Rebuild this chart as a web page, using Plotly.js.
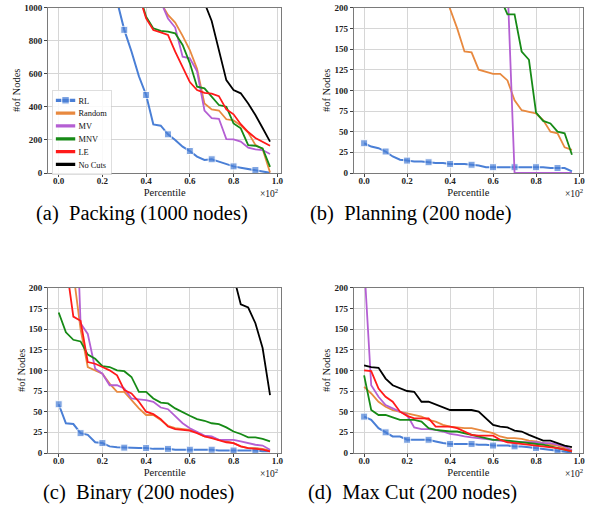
<!DOCTYPE html>
<html>
<head>
<meta charset="utf-8">
<script src="https://cdn.plot.ly/plotly-3.0.1.min.js"></script>
<style>html,body{margin:0;padding:0;background:#fff;} #chart{width:591px;height:514px;}</style>
</head>
<body>
<div id="chart"></div>
<script>
// Percentile positions (x, shown ×10^2)
const pct = [0.000,0.033,0.067,0.100,0.133,0.167,0.200,0.233,0.267,0.300,
             0.333,0.367,0.400,0.433,0.467,0.500,0.533,0.567,0.600,0.633,
             0.667,0.700,0.733,0.767,0.800,0.833,0.867,0.900,0.933,0.967];

const seriesNames = ["RL","Random","MV","MNV","LE","No Cuts"];

// (a) Packing (1000 nodes)
const packRL     = [4000,3400,2900,2500,2100,1800,1500,1250,1040,866,735,585,472,294,286,234,200,159,133,99,79,83,69,52,40,32,24,18,8,1];
const packRandom = [3000,2700,2500,2300,2100,1950,1800,1650,1500,1400,1300,1220,1150,1090,1030,956,910,830,744,630,420,385,378,325,318,288,245,170,145,3];
const packMV     = [3200,2900,2600,2350,2150,1950,1780,1620,1480,1360,1260,1180,1110,1070,1037,935,880,704,694,615,378,332,328,205,204,190,153,143,139,115];
const packMNV    = [2800,2500,2250,2050,1850,1700,1560,1440,1330,1240,1160,1090,945,875,860,855,845,775,665,522,512,462,411,401,300,270,169,165,149,37];
const packLE     = [2600,2350,2150,1950,1780,1630,1500,1390,1290,1210,1140,1076,935,865,851,835,734,643,550,502,485,480,465,385,355,295,248,212,188,165];
const packNoCuts = [5000,4700,4400,4100,3850,3600,3350,3100,2900,2700,2500,2300,2100,1920,1750,1600,1450,1320,1200,1100,1030,920,740,562,502,482,421,351,272,190];

// (b) Planning (200 node)
const planRL     = [36,32,30,26,20,16,15,14,14,13,12,12,11,11,11,10,9,7,7,7,7,7,7,7,7,7,6,6,6,2];
const planRandom = [600,520,460,410,370,335,305,280,260,245,233,222,198,175,147,146,125,122,120,120,112,88,76,74,72,64,50,48,31,28];
const planMV     = [900,850,800,760,720,680,640,600,570,540,510,480,450,420,390,360,330,300,275,250,230,0,0,0,0,0,0,0,0,0];
const planMNV    = [800,760,720,680,640,600,560,520,480,440,410,380,350,320,300,280,260,240,225,212,192,192,147,137,73,63,60,50,48,22];

// (c) Binary (200 nodes)
const binRL     = [59,36,35,24,22,13,12,8,7,6.5,6,6,6,5,5,5,4,4,4,4,4,4,3,3,3,3,3,3,2,2];
const binRandom = [400,300,218,150,104,100,96,84,74,74,64,54,46,46,40,33,30,29,28,25,20,19,16,14,12,8,6,6,5,3];
const binMV     = [600,500,400,157,144,102,96,82,82,78,66,65,64,62,55,53,44,36,30,26,21,20,16,16,16,14,12,10,9,4];
const binMNV    = [170,146,137,135,119,114,105,104,100,99,92,74,74,66,61,60,54,49,45,41,39,36,35,31,26,23,19,19,17,14];
const binLE     = [400,230,165,160,110,108,104,100,94,76,72,62,50,47,41,32,29,28,27,24,20,18,16,13,12,8,6,5,4,2];
const binNoCuts = [900,850,800,760,720,680,640,600,560,530,500,470,440,420,400,380,360,340,320,300,280,260,245,228,214,180,176,157,127,70];

// (d) Max Cut (200 nodes)
const mcRL     = [44,40,30,25,20,20,16,16,16,16,14,12,11,11,11,11,10,10,9,9,9,8,8,7,6,5,4,3,2,0.5];
const mcRandom = [80,72,62,56,52,50,48,46,44,40,38,34,32,31,30,30,28,26,24,20,18,18,17,15,14,12,10,9,6,4];
const mcMV     = [230,82,68,58,54,50,46,31,29,29,28,26,23,22,20,19,18,17,16,15,14,13,13,13,13,12,12,10,8,3];
const mcMNV    = [94,52,46,46,43,40,40,40,38,30,28,27,26,26,24,22,20,18,16,16,15,14,13,12,11,10,8,6,4,2];
const mcLE     = [100,99,78,68,62,50,45,42,42,42,32,32,32,30,26,22,21,21,21,16,13,12,11,10,9,8,7,6,4,2];
const mcNoCuts = [106,104,103,90,82,78,75,74,62,62,59,55,52,52,52,52,50,42,34,32,31,27,26,22,18,15,15,12,9,7];

const xTicks = [0,0.2,0.4,0.6,0.8,1.0];
const xTickText = ["0.0","0.2","0.4","0.6","0.8","1.0"];
const yTicksA = [0,200,400,600,800,1000];
const yTicksB = [0,25,50,75,100,125,150,175,200];

const captions = ["(a)  Packing (1000 nodes)","(b)  Planning (200 node)","(c)  Binary (200 nodes)","(d)  Max Cut (200 nodes)"];

const colors = {"RL":"#4a7fd6","Random":"#e8893f","MV":"#b45fd3","MNV":"#168a16","LE":"#ff1a1a","No Cuts":"#000000"};

const panels = [
  {ax:"", data:{"RL":packRL,"Random":packRandom,"MV":packMV,"MNV":packMNV,"LE":packLE,"No Cuts":packNoCuts}, legend:true},
  {ax:"2", data:{"RL":planRL,"Random":planRandom,"MV":planMV,"MNV":planMNV}, legend:false},
  {ax:"3", data:{"RL":binRL,"Random":binRandom,"MV":binMV,"MNV":binMNV,"LE":binLE,"No Cuts":binNoCuts}, legend:false},
  {ax:"4", data:{"RL":mcRL,"Random":mcRandom,"MV":mcMV,"MNV":mcMNV,"LE":mcLE,"No Cuts":mcNoCuts}, legend:false}
];

const markerSizes = pct.map((_, i) => (i % 3 === 0 ? 7 : 0));

const traces = [];
panels.forEach(p => {
  seriesNames.forEach(name => {
    if (!p.data[name]) return;
    const isRL = name === "RL";
    const tr = {
      x: pct, y: p.data[name], name: name,
      type: "scatter",
      mode: isRL ? "lines+markers" : "lines",
      line: {color: colors[name], width: isRL ? 2 : 1.8},
      xaxis: "x" + p.ax, yaxis: "y" + p.ax,
      showlegend: p.legend,
      hoverinfo: "skip"
    };
    if (isRL) tr.marker = {symbol: "square", size: markerSizes, color: colors[name]};
    traces.push(tr);
  });
});

const W = 591, H = 514;
const M = {l: 0, r: 8, t: 7, b: 7};
const PW = W - M.l - M.r, PH = H - M.t - M.b;
const SERIF = "Liberation Serif, Times New Roman, Times, DejaVu Serif, serif";
const tickFont = {family: SERIF, size: 9, color: "#222", weight: "bold"};
const titleFont = {family: SERIF, size: 10.5, color: "#111"};

function xAxis(left, right, anchor) {
  return {
    domain: [(left - M.l) / PW, (right - M.l) / PW], anchor: anchor,
    range: [-0.0485, 1.0185], tickvals: xTicks, ticktext: xTickText,
    showgrid: true, gridcolor: "#d6d6d6", gridwidth: 1,
    zeroline: false, showline: true, linecolor: "#7a7a7a", linewidth: 1, mirror: true,
    ticks: "outside", ticklen: 3, tickcolor: "#444", tickfont: tickFont,
    ticklabelstandoff: -4, automargin: true,
    title: {text: "Percentile", font: titleFont, standoff: 3}
  };
}
function yAxis(top, bottom, anchor, maxV, ticks) {
  return {
    domain: [(H - M.b - bottom) / PH, (H - M.b - top) / PH], anchor: anchor,
    range: [0, maxV], tickvals: ticks,
    showgrid: true, gridcolor: "#d6d6d6", gridwidth: 1,
    zeroline: false, showline: true, linecolor: "#7a7a7a", linewidth: 1, mirror: true,
    ticks: "outside", ticklen: 3, tickcolor: "#444", tickfont: tickFont,
    automargin: true,
    title: {text: "#of Nodes", font: titleFont, standoff: 1}
  };
}

const aLeft = 48.1, aRight = 281.3, bLeft = 353.7, bRight = 587.2;
const topTop = 7.7, topBot = 173, botTop = 287.7, botBot = 453;

const ann = [];
function px(x, y, text, size, color) {
  return {xref: "paper", yref: "paper", x: (x - M.l) / PW, y: (H - M.b - y) / PH, text: text,
    showarrow: false, xanchor: "center", yanchor: "middle",
    font: {family: SERIF, size: size, color: color || "#111"}};
}
ann.push(px(269, 192.5, "×10<sup>2</sup>", 9.5));
ann.push(px(574, 192.5, "×10<sup>2</sup>", 9.5));
ann.push(px(269, 472.5, "×10<sup>2</sup>", 9.5));
ann.push(px(574, 472.5, "×10<sup>2</sup>", 9.5));
ann.push(px(141.7, 213, captions[0], 20.5, "#000"));
ann.push(px(411, 213, captions[1], 20.5, "#000"));
ann.push(px(138, 492, captions[2], 20.5, "#000"));
ann.push(px(412.5, 492, captions[3], 20.5, "#000"));

const layout = {
  width: W, height: H,
  margin: M,
  paper_bgcolor: "#ffffff", plot_bgcolor: "#ffffff",
  showlegend: true,
  legend: {
    x: (52 - M.l) / PW, y: (H - M.b - 90) / PH, xanchor: "left", yanchor: "top",
    bgcolor: "rgba(255,255,255,0.85)", bordercolor: "#cccccc", borderwidth: 1,
    font: {family: SERIF, size: 13, color: "#111"},
    itemsizing: "constant", tracegroupgap: 0
  },
  xaxis: xAxis(aLeft, aRight, "y"),
  yaxis: yAxis(topTop, topBot, "x", 1000, yTicksA),
  xaxis2: xAxis(bLeft, bRight, "y2"),
  yaxis2: yAxis(topTop, topBot, "x2", 200, yTicksB),
  xaxis3: xAxis(aLeft, aRight, "y3"),
  yaxis3: yAxis(botTop, botBot, "x3", 200, yTicksB),
  xaxis4: xAxis(bLeft, bRight, "y4"),
  yaxis4: yAxis(botTop, botBot, "x4", 200, yTicksB),
  annotations: ann
};

Plotly.newPlot("chart", traces, layout, {staticPlot: true, displayModeBar: false}).then(() => {
  const lg = document.querySelector(".legend");
  if (lg) {
    const t = lg.getAttribute("transform") || "";
    lg.setAttribute("transform", t + " scale(0.645)");
  }
});
</script>
</body>
</html>
